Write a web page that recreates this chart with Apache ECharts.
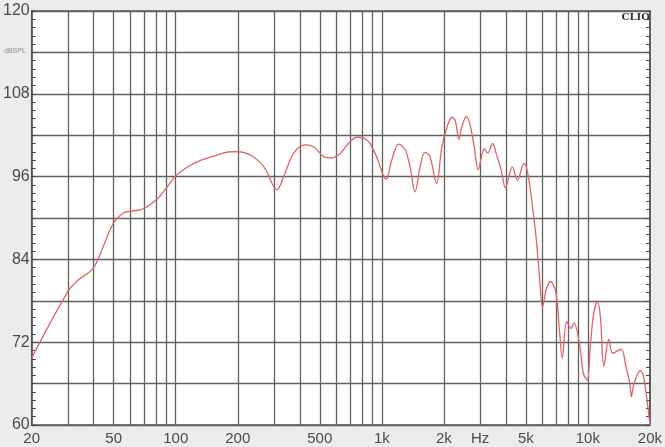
<!DOCTYPE html>
<html>
<head>
<meta charset="utf-8">
<script src="https://cdn.jsdelivr.net/npm/echarts@6/dist/echarts.min.js"></script>
<style>
  html, body { margin: 0; padding: 0; background: #ececec; }
  #chart { width: 665px; height: 447px; }
</style>
</head>
<body>
<div id="chart"></div>
<script>
// frequency response (Hz, dB SPL)
var freqs = [20, 29.9, 33.6, 39.7, 44.4, 49.7, 55.4, 60.8, 69.2, 80.2, 89.8, 100, 114, 133, 151, 185, 200, 231, 268, 310, 334, 374, 426, 468, 522, 564,
  630, 702, 757, 815, 876, 942, 1050, 1118, 1206, 1298, 1372, 1450, 1534, 1620, 1712, 1844, 1956, 2074, 2190, 2268, 2368, 2446, 2570, 2672, 2810, 2936,
  3142, 3262, 3450, 3584, 3790, 3980, 4300, 4550, 4900, 5108, 5410, 5624, 5840, 6020, 6300, 6596, 7000, 7260, 7514, 7894, 8280, 8560, 9160, 9500, 9920,
  10300, 10680, 11120, 11500, 11960, 12640, 13200, 14480, 15300, 15980, 16260, 16740, 17980, 18640, 20000];
var spl = [69.7, 79.3, 81.0, 82.7, 85.8, 89.2, 90.7, 91.0, 91.3, 92.6, 94.3, 96.1, 97.4, 98.4, 98.9, 99.6, 99.6, 99.1, 97.4, 94.1, 96.0, 99.4, 100.6, 100.3, 98.9, 98.7,
  99.4, 101.1, 101.7, 101.6, 100.8, 98.9, 95.6, 98.4, 100.7, 99.9, 97.4, 93.8, 97.4, 99.5, 98.9, 95.0, 100.3, 103.2, 104.6, 104.2, 101.4, 103.2, 104.7, 103.7, 100.3, 97.0,
  100.0, 99.4, 100.8, 99.4, 97.0, 94.4, 97.4, 95.5, 97.9, 96.5, 91.2, 86.8, 81.0, 77.1, 79.8, 80.8, 79.1, 74.2, 69.7, 75.0, 74.0, 74.8, 71.3, 67.5, 66.5,
  71.8, 76.2, 77.9, 75.7, 68.5, 72.4, 70.4, 71.0, 68.5, 66.0, 64.1, 66.0, 67.9, 67.0, 60.0];

// vertical grid lines (log decades) and x labels
var gridFreqs = [30, 40, 50, 60, 70, 80, 90, 100, 200, 300, 400, 500, 600, 700, 800, 900, 1000,
  2000, 3000, 4000, 5000, 6000, 7000, 8000, 9000, 10000];
var xLabelValues = [20, 50, 100, 200, 500, 1000, 2000, 3000, 5000, 10000, 20000];
var yLabelValues = [60, 72, 84, 96, 108, 120];

var myChart = echarts.init(document.getElementById('chart'));

var gridColor = '#606060';
var textColor = '#4a4a4a';

function fmtFreq(v) {
  v = Math.round(v);
  if (v === 3000) return 'Hz';
  if (v >= 1000) return (v / 1000) + 'k';
  return String(v);
}

var option = {
  animation: false,
  grid: {
    left: 30, right: 13, top: 11, bottom: 22,
    show: true,
    backgroundColor: '#ffffff',
    borderColor: '#555',
    borderWidth: 1.5
  },
  graphic: [
    { type: 'text', left: 4, top: 48, style: { text: 'dBSPL', fontSize: 7, fill: '#8a8a8a', fontFamily: 'Liberation Sans' } },
    { type: 'text', right: 15, top: 12, style: { text: 'CLIO', fontSize: 10, fontWeight: 'bold', fill: '#333', fontFamily: 'DejaVu Serif' } }
  ],
  xAxis: {
    type: 'log',
    logBase: 10,
    min: 20,
    max: 20000,
    axisLine: { show: false },
    axisTick: { show: false },
    splitLine: { show: false },
    axisLabel: {
      customValues: xLabelValues,
      formatter: fmtFreq,
      color: textColor,
      fontSize: 15,
      fontFamily: 'Liberation Sans',
      margin: 6,
      showMinLabel: true,
      showMaxLabel: true
    }
  },
  yAxis: [
    {
      type: 'value',
      min: 60, max: 120, interval: 6,
      axisLine: { show: true, lineStyle: { color: '#555', width: 1.5 } },
      axisTick: { show: true, inside: true, length: 4, lineStyle: { color: '#444', width: 1 } },
      minorTick: { show: true, splitNumber: 5, length: 4, lineStyle: { color: '#444', width: 1 } },
      splitLine: { show: true, lineStyle: { color: gridColor, width: 1.3 } },
      axisLabel: {
        customValues: yLabelValues,
        color: textColor,
        fontSize: 16,
        fontFamily: 'Liberation Sans',
        margin: 2
      }
    },
    {
      type: 'value',
      position: 'right',
      min: 60, max: 120, interval: 6,
      axisLine: { show: true, lineStyle: { color: '#555', width: 1.5 } },
      axisTick: { show: true, inside: true, length: 4, lineStyle: { color: '#444', width: 1 } },
      minorTick: { show: true, splitNumber: 5, length: 4, lineStyle: { color: '#444', width: 1 } },
      splitLine: { show: false },
      axisLabel: { show: false }
    }
  ],
  series: [
    {
      type: 'line',
      smooth: 0.35,
      symbol: 'none',
      data: freqs.map(function (f, i) { return [f, spl[i]]; }),
      lineStyle: { color: '#e06464', width: 1.3 },
      z: 5,
      markLine: {
        silent: true,
        symbol: 'none',
        label: { show: false },
        lineStyle: { color: gridColor, width: 1.3, type: 'solid' },
        data: gridFreqs.map(function (f) { return { xAxis: f }; })
      }
    }
  ]
};

myChart.setOption(option);
</script>
</body>
</html>
